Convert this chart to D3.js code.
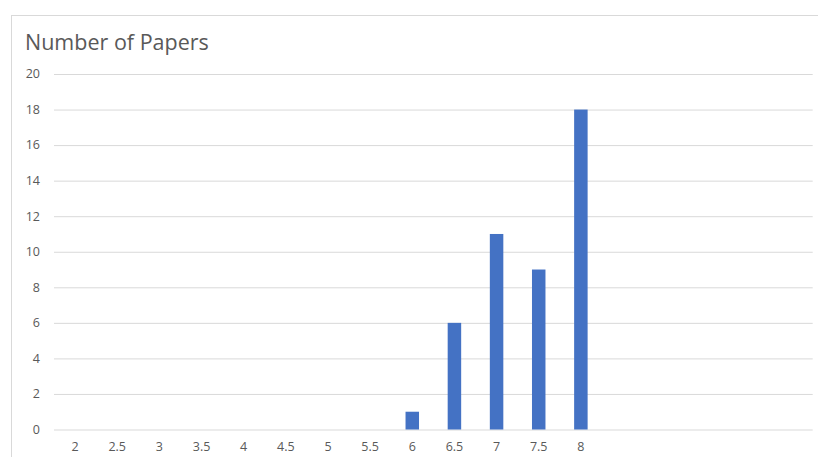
<!DOCTYPE html>
<html>
<head>
<meta charset="utf-8">
<script src="https://cdn.jsdelivr.net/npm/d3@7"></script>
<style>
  body { margin: 0; background: #fff; }
  svg { display: block; font-family: "Open Sans", sans-serif; }
</style>
</head>
<body>
<svg id="chart"></svg>
<script>
// scores on x, with five empty slots after 8 like the original sheet
var categories = ["2", "2.5", "3", "3.5", "4", "4.5", "5", "5.5", "6", "6.5", "7", "7.5", "8", "", "", "", "", ""];
var counts = [0, 0, 0, 0, 0, 0, 0, 0, 1, 6, 11, 9, 18, null, null, null, null, null];
var yTicks = [0, 2, 4, 6, 8, 10, 12, 14, 16, 18, 20];
var title = "Number of Papers";

var width = 818, height = 457;
var plotLeft = 54, plotRight = 812.7, plotTop = 74, plotBottom = 429.5;

var svg = d3.select("#chart").attr("width", width).attr("height", height);

// chart frame (cut off at right and bottom in the screenshot)
svg.append("rect").attr("x", 11.5).attr("y", 15.5).attr("width", 820).attr("height", 460)
    .attr("fill", "#fff").attr("stroke", "#d9d9d9");

svg.append("text").attr("x", 25).attr("y", 50).attr("font-size", 21.5).attr("fill", "#595959").text(title);

var x = d3.scaleBand().domain(d3.range(categories.length)).range([plotLeft, plotRight]).paddingInner(0.68).paddingOuter(0.34);
var y = d3.scaleLinear().domain([0, 20]).range([plotBottom, plotTop]);

// grid
svg.append("g").selectAll("line").data(yTicks).enter().append("line")
    .attr("x1", plotLeft).attr("x2", plotRight)
    .attr("y1", function (d) { return y(d) + 0.5; }).attr("y2", function (d) { return y(d) + 0.5; })
    .attr("stroke", "#d9d9d9").attr("stroke-width", 1);

// y labels
svg.append("g").selectAll("text").data(yTicks).enter().append("text")
    .attr("x", 40).attr("y", function (d) { return y(d); }).attr("dy", "0.35em")
    .attr("text-anchor", "end").attr("font-size", 12.5).attr("fill", "#595959")
    .text(function (d) { return d; });

// bars
var bars = counts.map(function (c, i) { return { i: i, v: c }; }).filter(function (d) { return d.v !== null; });
svg.append("g").selectAll("rect").data(bars).enter().append("rect")
    .attr("x", function (d) { return x(d.i); })
    .attr("width", x.bandwidth())
    .attr("y", function (d) { return y(d.v); })
    .attr("height", function (d) { return y(0) - y(d.v); })
    .attr("fill", "#4472c4");

// x labels
svg.append("g").selectAll("text").data(categories).enter().append("text")
    .attr("x", function (d, i) { return x(i) + x.bandwidth() / 2; }).attr("y", 451)
    .attr("text-anchor", "middle").attr("font-size", 12.5).attr("fill", "#595959")
    .text(function (d) { return d; });
</script>
</body>
</html>
